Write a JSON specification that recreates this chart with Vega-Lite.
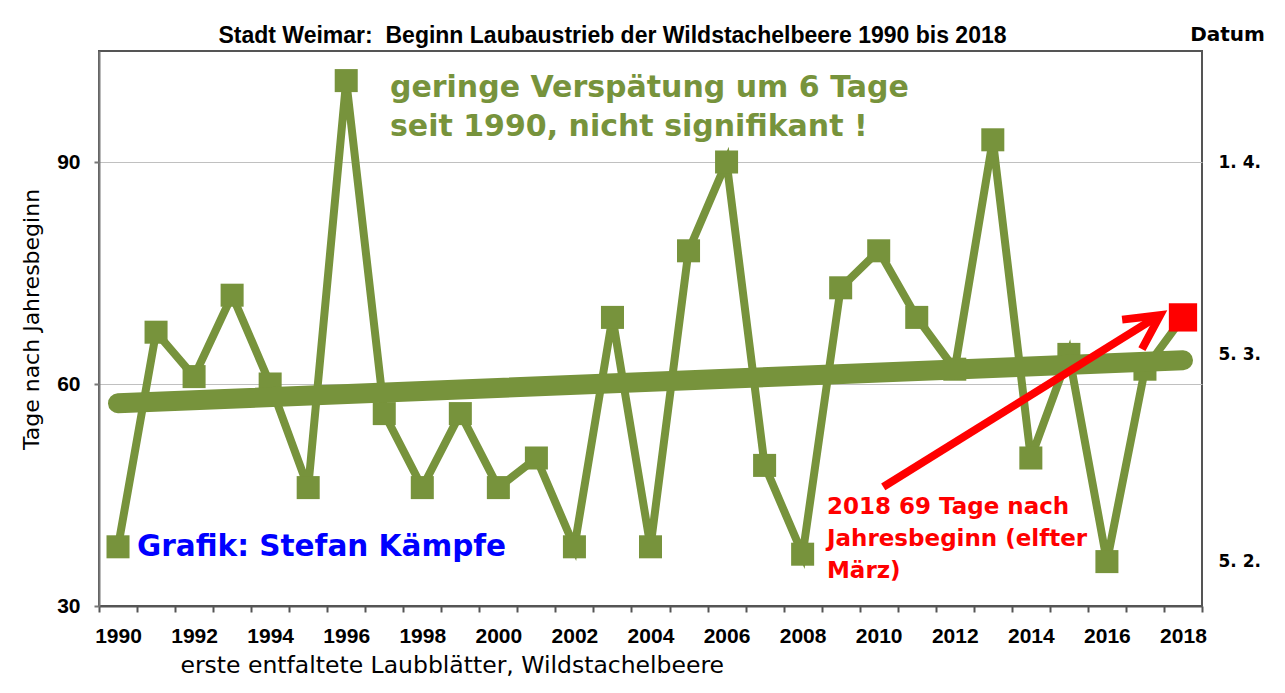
{
  "$schema": "https://vega.github.io/schema/vega-lite/v6.json",
  "width": 1103,
  "height": 555,
  "autosize": {"type": "none"},
  "padding": {"left": 99, "top": 51, "right": 83, "bottom": 87},
  "background": "white",
  "title": {
    "text": "Stadt Weimar:\u00a0 Beginn Laubaustrieb der Wildstachelbeere 1990 bis 2018",
    "font": "Liberation Sans", "fontSize": 23, "fontWeight": "bold", "color": "#000000",
    "anchor": "middle", "frame": "group", "dx": -38, "dy": 51, "offset": 9, "baseline": "alphabetic"
  },
  "config": {"view": {"stroke": "#555555", "strokeWidth": 2}},
  "datasets": {
    "obs": [
      {"year": 1990, "days": 38}, {"year": 1991, "days": 67}, {"year": 1992, "days": 61},
      {"year": 1993, "days": 72}, {"year": 1994, "days": 60}, {"year": 1995, "days": 46},
      {"year": 1996, "days": 101}, {"year": 1997, "days": 56}, {"year": 1998, "days": 46},
      {"year": 1999, "days": 56}, {"year": 2000, "days": 46}, {"year": 2001, "days": 50},
      {"year": 2002, "days": 38}, {"year": 2003, "days": 69}, {"year": 2004, "days": 38},
      {"year": 2005, "days": 78}, {"year": 2006, "days": 90}, {"year": 2007, "days": 49},
      {"year": 2008, "days": 37}, {"year": 2009, "days": 73}, {"year": 2010, "days": 78},
      {"year": 2011, "days": 69}, {"year": 2012, "days": 62}, {"year": 2013, "days": 93},
      {"year": 2014, "days": 50}, {"year": 2015, "days": 64}, {"year": 2016, "days": 36},
      {"year": 2017, "days": 62}, {"year": 2018, "days": 69}
    ]
  },
  "encoding": {
    "x": {
      "field": "year", "type": "quantitative",
      "scale": {"domain": [1989.5, 2018.5], "nice": false, "zero": false},
      "axis": {
        "title": "erste entfaltete Laubblätter, Wildstachelbeere",
        "titleFont": "DejaVu Sans", "titleFontSize": 23.5, "titleFontWeight": "normal", "titleColor": "#000000",
        "titleX": 81, "titleY": 66, "titleAlign": "left", "titleBaseline": "alphabetic",
        "values": [1989.5, 1990.5, 1991.5, 1992.5, 1993.5, 1994.5, 1995.5, 1996.5, 1997.5, 1998.5, 1999.5, 2000.5, 2001.5, 2002.5, 2003.5, 2004.5, 2005.5, 2006.5, 2007.5, 2008.5, 2009.5, 2010.5, 2011.5, 2012.5, 2013.5, 2014.5, 2015.5, 2016.5, 2017.5, 2018.5],
        "labelExpr": "(datum.value + 0.5) % 2 == 0 && datum.value < 2018.4 ? format(datum.value + 0.5, 'd') : ''",
        "labelOffset": 19, "labelFlush": false, "labelOverlap": false,
        "labelFont": "Liberation Sans", "labelFontSize": 21, "labelFontWeight": "bold", "labelColor": "#000000",
        "labelPadding": 30, "labelBaseline": "alphabetic",
        "tickSize": 6, "tickColor": "#555555", "tickWidth": 2,
        "domainColor": "#555555", "domainWidth": 2, "grid": false
      }
    }
  },
  "layer": [
    {
      "data": {"name": "obs"},
      "mark": {"type": "line", "color": "#77933C", "strokeWidth": 8, "strokeJoin": "miter"},
      "encoding": {
        "y": {
          "field": "days", "type": "quantitative",
          "scale": {"domain": [30, 105], "nice": false, "zero": false},
          "axis": {
            "title": "Tage nach Jahresbeginn",
            "titleFont": "DejaVu Sans", "titleFontSize": 22, "titleFontWeight": "normal", "titleColor": "#000000",
            "titleX": -68, "titleY": 268, "titleAngle": 270, "titleAlign": "center", "titleBaseline": "middle",
            "values": [30, 60, 90], "format": "d",
            "labelFont": "Liberation Sans", "labelFontSize": 21, "labelFontWeight": "bold", "labelColor": "#000000",
            "labelPadding": 14, "tickSize": 5, "tickColor": "#777777", "tickWidth": 2,
            "domainColor": "#777777", "domainWidth": 2,
            "grid": true, "gridColor": "#C0C0C0", "gridWidth": 1
          }
        }
      }
    },
    {
      "data": {"name": "obs"},
      "mark": {"type": "point", "shape": "square", "filled": true, "size": 530, "color": "#77933C", "opacity": 1, "strokeWidth": 0},
      "encoding": {
        "y": {"field": "days", "type": "quantitative", "scale": {"domain": [30, 105], "nice": false, "zero": false}, "axis": null}
      }
    },
    {
      "data": {"values": [{"year": 1990, "days": 57.4}, {"year": 2018, "days": 63.2}]},
      "mark": {"type": "line", "color": "#77933C", "strokeWidth": 20, "strokeCap": "round"},
      "encoding": {
        "y": {"field": "days", "type": "quantitative", "scale": {"domain": [30, 105], "nice": false, "zero": false}, "axis": null}
      }
    },
    {
      "data": {"values": [
        {"part": "shaft", "k": 1, "year": 2010.12, "days": 46.1},
        {"part": "shaft", "k": 2, "year": 2017.35, "days": 69.2},
        {"part": "head", "k": 1, "year": 2016.4, "days": 68.7},
        {"part": "head", "k": 2, "year": 2017.4, "days": 69.3},
        {"part": "head", "k": 3, "year": 2016.92, "days": 64.7}
      ]},
      "mark": {"type": "line", "color": "#FF0000", "strokeWidth": 8, "strokeCap": "butt", "strokeJoin": "miter"},
      "encoding": {
        "y": {"field": "days", "type": "quantitative", "scale": {"domain": [30, 105], "nice": false, "zero": false}, "axis": null},
        "detail": {"field": "part"},
        "order": {"field": "k"}
      }
    },
    {
      "data": {"values": [{"year": 2018, "days": 69}]},
      "mark": {"type": "point", "shape": "square", "filled": true, "size": 800, "color": "#FF0000", "opacity": 1, "strokeWidth": 0},
      "encoding": {
        "y": {
          "field": "days", "type": "quantitative",
          "scale": {"domain": [30, 105], "nice": false, "zero": false},
          "axis": {
            "orient": "right", "values": [36, 64, 90],
            "labelExpr": "datum.value == 36 ? '5. 2.' : datum.value == 64 ? '5. 3.' : '1. 4.'",
            "ticks": false, "domain": false, "grid": false, "labelPadding": 16,
            "labelFont": "DejaVu Sans", "labelFontSize": 17, "labelFontWeight": "bold", "labelColor": "#000000",
            "title": "Datum", "titleAngle": 0, "titleX": 25, "titleY": -11, "titleAlign": "center", "titleBaseline": "alphabetic",
            "titleFont": "DejaVu Sans", "titleFontSize": 20, "titleFontWeight": "bold", "titleColor": "#000000"
          }
        }
      }
    },
    {
      "data": {"values": [
        {"year": 1997.15, "days": 98.8, "label": "geringe Verspätung um 6 Tage"},
        {"year": 1997.15, "days": 93.5, "label": "seit 1990, nicht signifikant !"}
      ]},
      "mark": {"type": "text", "align": "left", "baseline": "alphabetic", "font": "DejaVu Sans", "fontSize": 30, "fontWeight": "bold", "color": "#77933C"},
      "encoding": {
        "y": {"field": "days", "type": "quantitative", "scale": {"domain": [30, 105], "nice": false, "zero": false}, "axis": null},
        "text": {"field": "label"}
      }
    },
    {
      "data": {"values": [{"year": 1990.5, "days": 36.8, "label": "Grafik: Stefan Kämpfe"}]},
      "mark": {"type": "text", "align": "left", "baseline": "alphabetic", "font": "DejaVu Sans", "fontSize": 29.5, "fontWeight": "bold", "color": "#0000FF"},
      "encoding": {
        "y": {"field": "days", "type": "quantitative", "scale": {"domain": [30, 105], "nice": false, "zero": false}, "axis": null},
        "text": {"field": "label"}
      }
    },
    {
      "data": {"values": [
        {"year": 2008.64, "days": 42.4, "label": "2018 69 Tage nach"},
        {"year": 2008.64, "days": 38.1, "label": "Jahresbeginn (elfter"},
        {"year": 2008.64, "days": 33.8, "label": "März)"}
      ]},
      "mark": {"type": "text", "align": "left", "baseline": "alphabetic", "font": "DejaVu Sans", "fontSize": 23, "fontWeight": "bold", "color": "#FF0000"},
      "encoding": {
        "y": {"field": "days", "type": "quantitative", "scale": {"domain": [30, 105], "nice": false, "zero": false}, "axis": null},
        "text": {"field": "label"}
      }
    }
  ],
  "resolve": {"axis": {"y": "independent"}}
}
